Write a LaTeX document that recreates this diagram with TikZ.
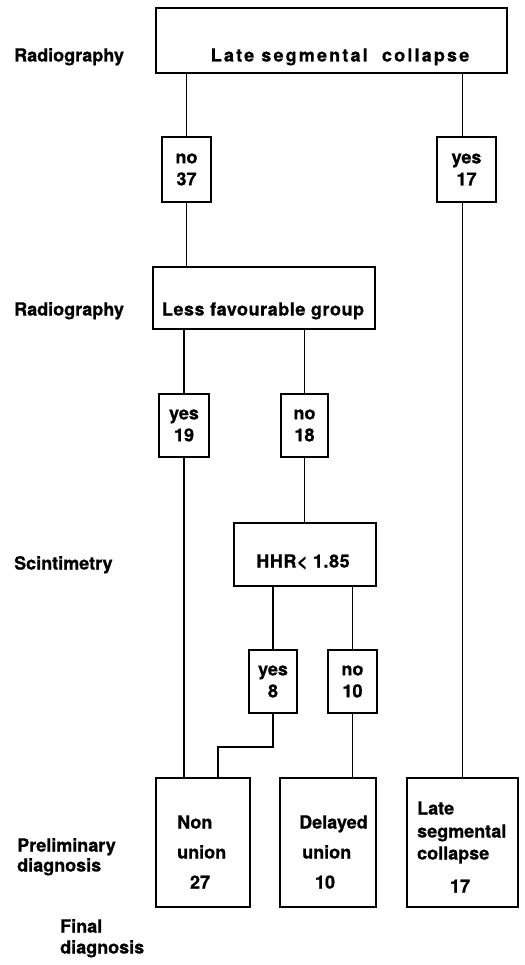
\documentclass[tikz,border=0pt]{standalone}
\usepackage{fontspec}
\setmainfont{TeX Gyre Heros}[BoldFeatures={FakeBold=0.8}]
\begin{document}
\begin{tikzpicture}[x=1pt,y=-1pt,
  every node/.style={font=\fontsize{18}{22}\selectfont\bfseries},
  box/.style={draw,line width=1.8pt,inner sep=0,anchor=center},
  txt/.style={inner sep=0,text height=13pt,text depth=0pt},
  conn/.style={line width=1.1pt}]
\useasboundingbox (0,0) rectangle (524,965);
% boxes
\node[box,minimum width=351,minimum height=65] (top) at (331.5,40.5) {};
\node[box,minimum width=222,minimum height=62] (lfg) at (264,298) {};
\node[box,minimum width=142,minimum height=63] (hhr) at (305,554.5) {};
\node[box,minimum width=49,minimum height=65,align=center] (no37) at (186.5,169.5) {no\\37};
\node[box,minimum width=59,minimum height=65,align=center] (yes17) at (466.5,169.5) {yes\\17};
\node[box,minimum width=50,minimum height=63,align=center] (yes19) at (184,425.5) {yes\\19};
\node[box,minimum width=47,minimum height=63,align=center] (no18) at (304.5,425.5) {no\\18};
\node[box,minimum width=48,minimum height=63,align=center] (yes8) at (273,681.5) {yes\\8};
\node[box,minimum width=49,minimum height=63,align=center] (no10) at (352.5,681.5) {no\\10};
\node[box,minimum width=94,minimum height=129] (nonu) at (203,842.5) {};
\node[box,minimum width=96,minimum height=129] (dely) at (328,842.5) {};
\node[box,minimum width=111,minimum height=129] (late) at (462.5,842.5) {};
% box texts
\node[txt,font=\fontsize{18}{22}\selectfont\bfseries\addfontfeature{LetterSpace=12}] (ttop) at (340,55) {Late segmental\ \ collapse};
\node[txt,font=\fontsize{18}{22}\selectfont\bfseries\addfontfeature{LetterSpace=3}] (tlfg) at (263,309) {Less favourable group};
\node[txt,font=\fontsize{18}{22}\selectfont\bfseries\addfontfeature{LetterSpace=3}] (thhr) at (303,561) {HHR< 1.85};
\node[txt,anchor=west] (tnon1) at (177,822) {Non};
\node[txt,anchor=west] (tnon2) at (177,852) {union};
\node[txt] (tnon3) at (200,882) {27};
\node[txt,anchor=west] (tdel1) at (299,822) {Delayed};
\node[txt,anchor=west] (tdel2) at (302,852) {union};
\node[txt] (tdel3) at (325,882) {10};
\node[txt,anchor=west] (tlat1) at (417,808) {Late};
\node[txt,anchor=west] (tlat2) at (417,831) {segmental};
\node[txt,anchor=west] (tlat3) at (417,853) {collapse};
\node[txt] (tlat4) at (460,886) {17};
% side labels
\node[txt,anchor=west] (l1) at (14,55) {Radiography};
\node[txt,anchor=west] (l2) at (14,309) {Radiography};
\node[txt,anchor=west] (l3) at (14,563) {Scintimetry};
\node[txt,anchor=west] (l4a) at (17,845) {Preliminary};
\node[txt,anchor=west] (l4b) at (17,865) {diagnosis};
\node[txt,anchor=west] (l5a) at (60,926) {Final};
\node[txt,anchor=west] (l5b) at (60,947) {diagnosis};
% connectors
\draw[conn] (no37.north |- top.south) -- (no37.north);
\draw[conn] (late.north |- top.south) -- (late.north |- yes17.north);
\draw[conn] (late.north |- yes17.south) -- (late.north);
\draw[conn] (no37.south) -- (no37.south |- lfg.north);
\draw[conn] (yes19.north |- lfg.south) -- (yes19.north);
\draw[conn] (no18.north |- lfg.south) -- (no18.north);
\draw[conn] (yes19.south) -- (yes19.south |- nonu.north);
\draw[conn] (no18.south) -- (no18.south |- hhr.north);
\draw[conn] (yes8.north |- hhr.south) -- (yes8.north);
\draw[conn] (no10.north |- hhr.south) -- (no10.north);
\coordinate (bend) at (218,747);
\draw[conn] (yes8.south) -- (yes8.south |- bend) -- (bend) -- (bend |- nonu.north);
\draw[conn] (no10.south) -- (no10.south |- dely.north);
\end{tikzpicture}
\end{document}
